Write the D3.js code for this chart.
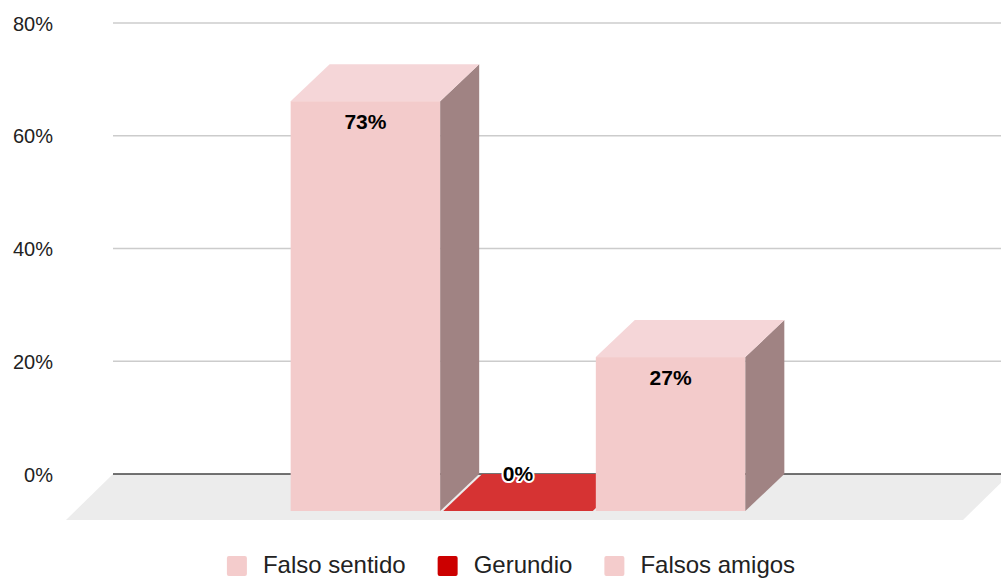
<!DOCTYPE html>
<html>
<head>
<meta charset="utf-8">
<script src="https://cdn.jsdelivr.net/npm/d3@7"></script>
<style>
  body { margin: 0; background: #fff; }
  svg { display: block; font-family: Arial, "Liberation Sans", sans-serif; }
</style>
</head>
<body>
<svg id="chart" width="1001" height="578"></svg>
<script>
// Data
const categories = ["Falso sentido", "Gerundio", "Falsos amigos"];
const values = [0.727, 0, 0.273];
const yTicks = [0, 0.2, 0.4, 0.6, 0.8];

// Colours per bar: front, top, side, legend swatch
const frontColours = ["#f3cbcb", "#d63333", "#f3cbcb"];
const topColours = ["#f5d6d8", "#d63333", "#f5d6d8"];
const sideColours = ["#a08383", "#a02020", "#a08383"];
const legendColours = ["#f4cccc", "#cc0000", "#f4cccc"];

const svg = d3.select('#chart');

// Back plane of the plot, and 3D depth offsets
const plot = {left: 113, right: 1001, top: 23, bottom: 474};
const depth = {dx: 39, dy: 37};
const floorDepth = {dx: 47, dy: 46};
const floorRight = 1010; // floor runs past the right edge of the picture

const xScale = d3.scaleBand()
    .domain(categories)
    .range([plot.left, plot.right])
    .paddingInner(0.02)
    .paddingOuter(1.42);

const yScale = d3.scaleLinear()
    .domain([0, 0.8])
    .range([plot.bottom, plot.top]);

const pct = d3.format('.0%');

// Floor
svg.append('path')
    .attr('d', `M${plot.left},${plot.bottom} L${floorRight},${plot.bottom} L${floorRight - floorDepth.dx},${plot.bottom + floorDepth.dy} L${plot.left - floorDepth.dx},${plot.bottom + floorDepth.dy} Z`)
    .attr('fill', '#ececec');

// Gridlines
svg.append('g').selectAll('line').data(yTicks.filter(d => d > 0)).join('line')
    .attr('x1', plot.left).attr('x2', plot.right)
    .attr('y1', d => yScale(d)).attr('y2', d => yScale(d))
    .attr('stroke', '#cccccc').attr('stroke-width', 1.3);

// Baseline
svg.append('line')
    .attr('x1', plot.left).attr('x2', plot.right)
    .attr('y1', yScale(0)).attr('y2', yScale(0))
    .attr('stroke', '#444').attr('stroke-width', 1.5);

// Tick labels
svg.append('g').selectAll('text').data(yTicks).join('text')
    .attr('x', 53)
    .attr('y', d => yScale(d))
    .attr('dy', '0.38em')
    .attr('text-anchor', 'end')
    .attr('font-size', 20)
    .attr('fill', '#222')
    .text(d => pct(d));

// Bars, left to right so the next front face hides the previous side face
const bars = svg.append('g').selectAll('g.bar').data(categories).join('g').attr('class', 'bar');

bars.each(function(cat, i) {
    const g = d3.select(this);
    const bx0 = xScale(cat), bx1 = bx0 + xScale.bandwidth();
    const by0 = yScale(0), by1 = yScale(values[i]);
    const fx0 = bx0 - depth.dx, fx1 = bx1 - depth.dx;
    const fy0 = by0 + depth.dy, fy1 = by1 + depth.dy;

    if (values[i] > 0) {
        // front
        g.append('rect')
            .attr('x', fx0).attr('y', fy1)
            .attr('width', fx1 - fx0).attr('height', fy0 - fy1)
            .attr('fill', frontColours[i]);
        // side
        g.append('path')
            .attr('d', `M${fx1},${fy1} L${bx1},${by1} L${bx1},${by0} L${fx1},${fy0} Z`)
            .attr('fill', sideColours[i]);
    }
    // top
    g.append('path')
        .attr('d', `M${fx0},${fy1} L${bx0},${by1} L${bx1},${by1} L${fx1},${fy1} Z`)
        .attr('fill', topColours[i]);
});

// Value labels (drawn after all bars)
svg.append('g').selectAll('text').data(categories).join('text')
    .attr('x', d => xScale(d) - depth.dx + xScale.bandwidth() / 2)
    .attr('y', (d, i) => values[i] > 0.05 ? yScale(values[i]) + depth.dy + 28 : yScale(0) + 7)
    .attr('text-anchor', 'middle')
    .attr('font-size', 21)
    .attr('font-weight', 'bold')
    .attr('fill', '#000')
    .attr('stroke', (d, i) => values[i] > 0.05 ? 'none' : '#fff')
    .attr('stroke-width', 4)
    .attr('stroke-linejoin', 'round')
    .attr('paint-order', 'stroke')
    .text((d, i) => pct(values[i]));

// Legend
const legend = svg.append('g').attr('transform', 'translate(0,565)');
const items = legend.selectAll('g').data(categories).join('g');
items.append('rect')
    .attr('y', -9).attr('width', 20).attr('height', 20)
    .attr('rx', 2)
    .attr('fill', (d, i) => legendColours[i]);
items.append('text')
    .attr('x', 36)
    .attr('y', 7.5)
    .attr('font-size', 24)
    .attr('fill', '#222')
    .text(d => d);

let cursor = 0;
const itemX = [];
items.each(function() {
    itemX.push(cursor);
    cursor += this.getBBox().width + 32;
});
const total = cursor - 32;
const startX = 511 - total / 2;
items.attr('transform', (d, i) => `translate(${startX + itemX[i]},0)`);
</script>
</body>
</html>
